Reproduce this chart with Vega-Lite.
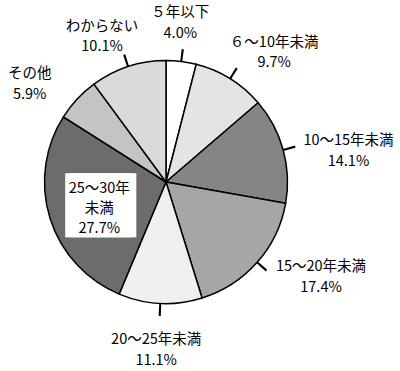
{
  "$schema": "https://vega.github.io/schema/vega-lite/v6.json",
  "autosize": {"type": "none"},
  "width": 332,
  "height": 364,
  "padding": {"left": 0, "top": 0, "right": 68, "bottom": 7},
  "background": "white",
  "config": {"view": {"stroke": null}},
  "data": {
    "values": [
      {"idx": 1, "cat": "５年以下", "disp": "５年以下", "pct": 4.0},
      {"idx": 2, "cat": "６～10年未満", "disp": "６～10年未満", "pct": 9.7},
      {"idx": 3, "cat": "10～15年未満", "disp": "10～15年未満", "pct": 14.1},
      {"idx": 4, "cat": "15～20年未満", "disp": "15～20年未満", "pct": 17.4},
      {"idx": 5, "cat": "20～25年未満", "disp": "20～25年未満", "pct": 11.1},
      {"idx": 6, "cat": "25～30年未満", "disp": "25～30年\n未満", "pct": 27.7},
      {"idx": 7, "cat": "その他", "disp": "その他", "pct": 5.9},
      {"idx": 8, "cat": "わからない", "disp": "わからない", "pct": 10.1}
    ]
  },
  "transform": [
    {"window": [{"op": "sum", "field": "pct", "as": "cum"}], "sort": [{"field": "idx"}], "frame": [null, 0]},
    {"calculate": "datum.cum - datum.pct", "as": "start"},
    {"calculate": "datum.cum - datum.pct / 2", "as": "mid"},
    {"calculate": "datum.mid - 0.13", "as": "t1"},
    {"calculate": "datum.mid + 0.13", "as": "t2"},
    {"calculate": "datum.disp + '\\n' + format(datum.pct, '.1f') + '%'", "as": "label"}
  ],
  "layer": [
    {
      "mark": {"type": "arc", "outerRadius": 121.5, "stroke": "#000", "strokeWidth": 1.5},
      "encoding": {
        "theta": {"field": "start", "type": "quantitative", "stack": null, "scale": {"domain": [0, 100]}},
        "theta2": {"field": "cum"},
        "color": {
          "field": "cat", "type": "nominal", "legend": null,
          "scale": {
            "domain": ["５年以下", "６～10年未満", "10～15年未満", "15～20年未満", "20～25年未満", "25～30年未満", "その他", "わからない"],
            "range": ["#ffffff", "#e4e4e4", "#858585", "#a6a6a6", "#efefef", "#6c6c6c", "#c4c4c4", "#dadada"]
          }
        }
      }
    },
    {
      "transform": [{"filter": "datum.idx != 6 && datum.idx != 7"}],
      "mark": {"type": "arc", "innerRadius": 121.5, "outerRadius": 134, "fill": "#000"},
      "encoding": {
        "theta": {"field": "t1", "type": "quantitative", "stack": null, "scale": {"domain": [0, 100]}},
        "theta2": {"field": "t2"}
      }
    },
    {
      "transform": [{"filter": "datum.idx == 6"}],
      "mark": {"type": "text", "text": "██", "font": "DejaVu Sans Mono", "fontSize": 54, "color": "#ffffff", "radius": 71, "dx": 0, "dy": 5, "align": "center", "baseline": "middle"},
      "encoding": {
        "theta": {"field": "mid", "type": "quantitative", "stack": null, "scale": {"domain": [0, 100]}}
      }
    },
    {
      "transform": [{"filter": "datum.idx == 6"}],
      "mark": {"type": "text", "text": "██", "font": "DejaVu Sans Mono", "fontSize": 54, "color": "#ffffff", "radius": 71, "dx": 5, "dy": 5, "align": "center", "baseline": "middle"},
      "encoding": {
        "theta": {"field": "mid", "type": "quantitative", "stack": null, "scale": {"domain": [0, 100]}}
      }
    },
    {
      "transform": [{"filter": "datum.idx == 1"}],
      "mark": {"type": "text", "radius": 162, "dx": -6, "dy": -8.5, "font": "Noto Sans CJK JP", "fontSize": 14.5, "lineBreak": "\n", "lineHeight": 21, "align": "center", "baseline": "middle", "color": "#000"},
      "encoding": {"theta": {"field": "mid", "type": "quantitative", "stack": null, "scale": {"domain": [0, 100]}}, "text": {"field": "label"}}
    },
    {
      "transform": [{"filter": "datum.idx == 2"}],
      "mark": {"type": "text", "radius": 167, "dx": 20, "dy": 2.5, "font": "Noto Sans CJK JP", "fontSize": 14.5, "lineBreak": "\n", "lineHeight": 20.5, "align": "center", "baseline": "middle", "color": "#000"},
      "encoding": {"theta": {"field": "mid", "type": "quantitative", "stack": null, "scale": {"domain": [0, 100]}}, "text": {"field": "label"}}
    },
    {
      "transform": [{"filter": "datum.idx == 3"}],
      "mark": {"type": "text", "radius": 183, "dx": 6, "dy": 7.5, "font": "Noto Sans CJK JP", "fontSize": 14.5, "lineBreak": "\n", "lineHeight": 21, "align": "center", "baseline": "middle", "color": "#000"},
      "encoding": {"theta": {"field": "mid", "type": "quantitative", "stack": null, "scale": {"domain": [0, 100]}}, "text": {"field": "label"}}
    },
    {
      "transform": [{"filter": "datum.idx == 4"}],
      "mark": {"type": "text", "radius": 180, "dx": 20, "dy": -34.5, "font": "Noto Sans CJK JP", "fontSize": 14.5, "lineBreak": "\n", "lineHeight": 21, "align": "center", "baseline": "middle", "color": "#000"},
      "encoding": {"theta": {"field": "mid", "type": "quantitative", "stack": null, "scale": {"domain": [0, 100]}}, "text": {"field": "label"}}
    },
    {
      "transform": [{"filter": "datum.idx == 5"}],
      "mark": {"type": "text", "radius": 166, "dx": -2, "dy": -7.5, "font": "Noto Sans CJK JP", "fontSize": 14.5, "lineBreak": "\n", "lineHeight": 21, "align": "center", "baseline": "middle", "color": "#000"},
      "encoding": {"theta": {"field": "mid", "type": "quantitative", "stack": null, "scale": {"domain": [0, 100]}}, "text": {"field": "label"}}
    },
    {
      "transform": [{"filter": "datum.idx == 6"}],
      "mark": {"type": "text", "radius": 71, "dx": 1, "dy": -14, "font": "Noto Sans CJK JP", "fontSize": 14.5, "lineBreak": "\n", "lineHeight": 20, "align": "center", "baseline": "middle", "color": "#000"},
      "encoding": {"theta": {"field": "mid", "type": "quantitative", "stack": null, "scale": {"domain": [0, 100]}}, "text": {"field": "label"}}
    },
    {
      "transform": [{"filter": "datum.idx == 7"}],
      "mark": {"type": "text", "radius": 166, "dx": -15, "dy": 5.5, "font": "Noto Sans CJK JP", "fontSize": 14.5, "lineBreak": "\n", "lineHeight": 21, "align": "center", "baseline": "middle", "color": "#000"},
      "encoding": {"theta": {"field": "mid", "type": "quantitative", "stack": null, "scale": {"domain": [0, 100]}}, "text": {"field": "label"}}
    },
    {
      "transform": [{"filter": "datum.idx == 8"}],
      "mark": {"type": "text", "radius": 160, "dx": -14, "dy": -3, "font": "Noto Sans CJK JP", "fontSize": 14.5, "lineBreak": "\n", "lineHeight": 20, "align": "center", "baseline": "middle", "color": "#000"},
      "encoding": {"theta": {"field": "mid", "type": "quantitative", "stack": null, "scale": {"domain": [0, 100]}}, "text": {"field": "label"}}
    }
  ]
}
